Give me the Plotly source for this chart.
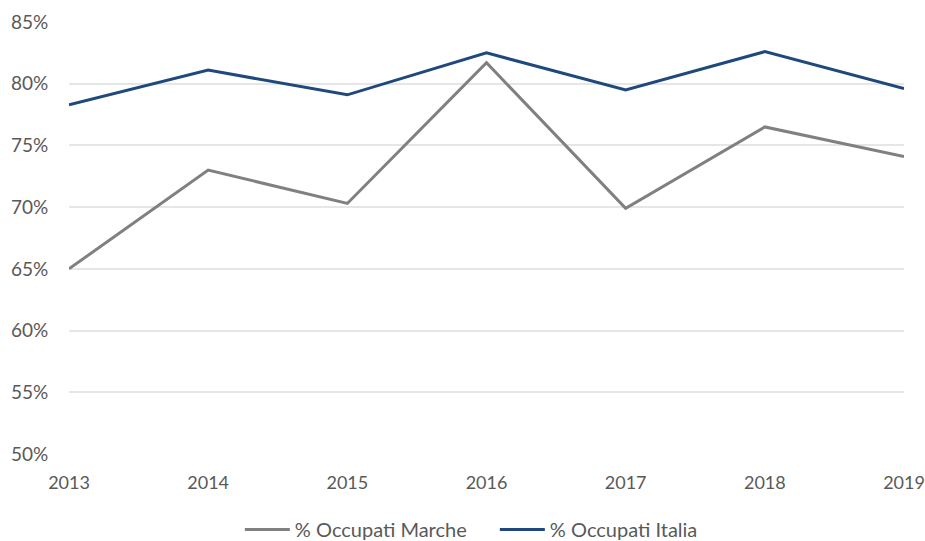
import plotly.graph_objects as go

years = [2013, 2014, 2015, 2016, 2017, 2018, 2019]
occupati_marche = [65.0, 73.0, 70.3, 81.7, 69.9, 76.5, 74.1]
occupati_italia = [78.3, 81.1, 79.1, 82.5, 79.5, 82.6, 79.6]
y_ticks = [50, 55, 60, 65, 70, 75, 80, 85]
y_labels = [f"{v}%" for v in y_ticks]

fig = go.Figure()

fig.add_trace(
    go.Scatter(
        x=years,
        y=occupati_marche,
        mode="lines",
        name="% Occupati Marche",
        line=dict(color="#808080", width=3),
    )
)

fig.add_trace(
    go.Scatter(
        x=years,
        y=occupati_italia,
        mode="lines",
        name="% Occupati Italia",
        line=dict(color="#1F497D", width=3),
    )
)

fig.update_layout(
    width=925,
    height=541,
    margin=dict(l=69, r=21, t=22, b=87, autoexpand=False),
    plot_bgcolor="white",
    paper_bgcolor="white",
    font=dict(family="Lato, Open Sans, sans-serif", size=19, color="#595959"),
    xaxis=dict(
        range=[2013, 2019],
        tickvals=years,
        ticktext=[str(y) for y in years],
        tickfont=dict(size=18),
        showgrid=False,
        zeroline=False,
        showline=False,
        ticks="outside",
        ticklen=12,
        tickcolor="rgba(0,0,0,0)",
        ticklabeloverflow="allow",
    ),
    yaxis=dict(
        range=[50, 85],
        tickvals=y_ticks,
        ticktext=y_labels,
        showgrid=True,
        gridcolor="#E6E6E6",
        gridwidth=1.5,
        zeroline=False,
        showline=False,
        ticks="outside",
        ticklen=16,
        tickcolor="rgba(0,0,0,0)",
    ),
    showlegend=True,
    legend=dict(
        orientation="h",
        yanchor="middle",
        y=-0.175,
        xanchor="center",
        x=0.51,
        font=dict(size=20, color="#595959"),
        itemwidth=45,
        entrywidth=195,
    ),
)

# drop the default page margin so the figure fills the window exactly
fig.write_html(
    "out.html",
    config={"displayModeBar": False},
    post_script="document.body.style.margin='0';document.body.style.overflow='hidden';",
)
